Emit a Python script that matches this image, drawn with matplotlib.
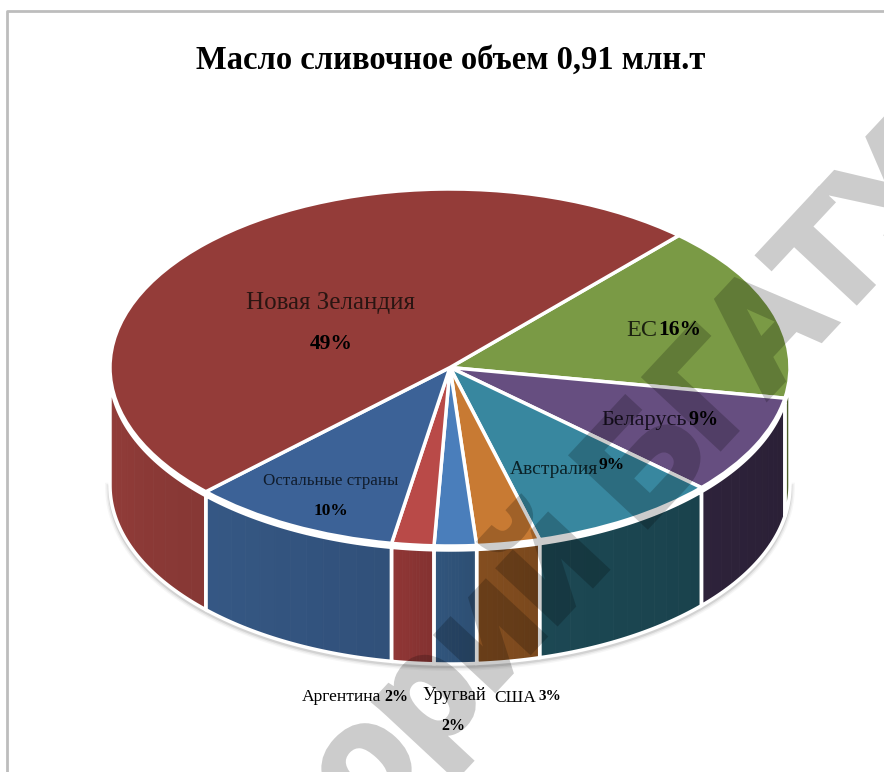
import numpy as np
import matplotlib.pyplot as plt
import matplotlib.patheffects as pe
from matplotlib.colors import to_rgb
from matplotlib.patches import Wedge, Polygon
from matplotlib.transforms import Affine2D

# values
countries = ["ЕС", "Беларусь", "Австралия", "США", "Уругвай", "Аргентина", "Остальные страны", "Новая Зеландия"]
shares = [16, 9, 9, 3, 2, 2, 10, 49]
title = "Масло сливочное объем 0,91 млн.т"
watermark = "Репозиторий БГАТУ"

top_colors = ["#7a9a45", "#664e80", "#38879f", "#c87a33", "#4a7ebb", "#b94a48", "#3c6297", "#943c39"]
side_colors = ["#4d5f2b", "#2c2138", "#1b4550", "#7f4b1e", "#2f5278", "#8a3433", "#33547f", "#8d3a37"]

# pie geometry in pixels
cx, cy = 450, 367.5
rx, ry = 340, 178.5
depth = 118
start_angle = 47.7

plt.rcParams['font.family'] = ['Liberation Serif', 'DejaVu Serif']

fig = plt.figure(figsize=(8.84, 7.72), dpi=100)
ax = fig.add_axes([0, 0, 1, 1])
ax.set_xlim(0, 884)
ax.set_ylim(772, 0)
ax.axis('off')

# page frame
ax.plot([7, 7, 884], [772, 11, 11], color='#bdbdbd', lw=2, zorder=1)

# slice angles go clockwise from the start angle
ends = start_angle - np.cumsum(shares) * 3.6
starts = np.concatenate([[start_angle], ends[:-1]])


def rim(angle):
    a = np.radians(angle)
    return cx + rx * np.cos(a), cy - ry * np.sin(a)


def fade(im, dpi):
    # flatten stroke and fill into one see-through layer
    im = im.copy()
    im[..., 3] *= 0.2
    return im, 0, 0


# soft shadow under the drum
a = np.linspace(180, 360, 200)
x, y = rim(a)
for w, al in [(7, 0.06), (5, 0.1), (3, 0.18)]:
    ax.plot(x, y + depth + 2, color='#707070', lw=w, alpha=al, zorder=2)

# sides, only the part of each slice facing the viewer
for i in range(len(shares)):
    hi = starts[i] % 360
    lo = ends[i] % 360
    if hi < lo:
        hi += 360
    # visible range is 180..360 deg
    a0 = max(lo, 180)
    a1 = min(hi, 360)
    if a1 <= a0:
        continue
    a = np.linspace(a0, a1, 61)
    x, y = rim(a)
    base = np.array(to_rgb(side_colors[i]))
    # faint vertical banding, lighter toward the left of each side
    n_strips = 12
    for k in range(n_strips):
        j0, j1 = 5 * k, 5 * (k + 1) + 1
        xs, ys = x[j0:j1], y[j0:j1]
        shade = 1.04 - 0.08 * k / (n_strips - 1)
        col = np.clip(base * shade, 0, 1)
        pts = np.column_stack([np.r_[xs, xs[::-1]], np.r_[ys + 4, ys[::-1] + depth]])
        ax.add_patch(Polygon(pts, closed=True, facecolor=col, edgecolor=col, lw=0.6, zorder=3))
    pts = np.column_stack([np.r_[x, x[::-1]], np.r_[y + 4, y[::-1] + depth]])
    ax.add_patch(Polygon(pts, closed=True, facecolor='none', edgecolor='white', lw=2.5, zorder=3.5))

# top of the pie
for i in range(len(shares)):
    w = Wedge((0, 0), 1, ends[i], starts[i], facecolor=top_colors[i], edgecolor='white', lw=2.5,
              transform=Affine2D().scale(rx, -ry).translate(cx, cy) + ax.transData, zorder=4)
    ax.add_patch(w)

ax.text(451, 60, title, fontsize=23.5, fontweight='bold', ha='center', va='center', color='black', zorder=6)

# labels
names = dict(zip(countries, shares))
ax.text(331, 303, "Новая Зеландия", fontsize=18, ha='center', va='center', color='#2a1512', zorder=6)
ax.text(331, 344, f"{names['Новая Зеландия']}%", fontsize=15.5, fontweight='bold', ha='center', va='center', zorder=6)
ax.text(642, 331, "ЕС", fontsize=17.5, ha='center', va='center', color='#1c2210', zorder=6)
ax.text(680, 330, f"{names['ЕС']}%", fontsize=15.5, fontweight='bold', ha='center', va='center', zorder=6)
ax.text(644, 421, "Беларусь", fontsize=16, ha='center', va='center', color='#17101f', zorder=6)
ax.text(704, 420, f"{names['Беларусь']}%", fontsize=14.5, fontweight='bold', ha='center', va='center', zorder=6)
ax.text(554, 469, "Австралия", fontsize=14, ha='center', va='center', color='#0b2228', zorder=6)
ax.text(612, 465, f"{names['Австралия']}%", fontsize=12.5, fontweight='bold', ha='center', va='center', zorder=6)
ax.text(331, 481, "Остальные страны", fontsize=12.2, ha='center', va='center', color='#101c2c', zorder=6)
ax.text(331, 511, f"{names['Остальные страны']}%", fontsize=12.5, fontweight='bold', ha='center', va='center', zorder=6)
ax.text(342, 697, "Аргентина", fontsize=12.6, ha='center', va='center', zorder=6)
ax.text(396, 697, f"{names['Аргентина']}%", fontsize=11.5, fontweight='bold', ha='center', va='center', zorder=6)
ax.text(454, 695, "Уругвай", fontsize=13.2, ha='center', va='center', zorder=6)
ax.text(453, 726, f"{names['Уругвай']}%", fontsize=11.5, fontweight='bold', ha='center', va='center', zorder=6)
ax.text(515, 698, "США", fontsize=12.5, ha='center', va='center', zorder=6)
ax.text(550, 697, f"{names['США']}%", fontsize=11, fontweight='bold', ha='center', va='center', zorder=6)

# diagonal stamp over everything
stamp = ax.text(430, 700, watermark, fontsize=107, family=['Liberation Sans', 'DejaVu Sans'], fontweight='bold',
                color='black', rotation=47, rotation_mode='anchor', ha='center', va='center', zorder=7)
stamp.set_path_effects([pe.withStroke(linewidth=5, foreground='black', joinstyle='miter')])
stamp.set_agg_filter(fade)

fig.savefig('out.png', dpi=100)
